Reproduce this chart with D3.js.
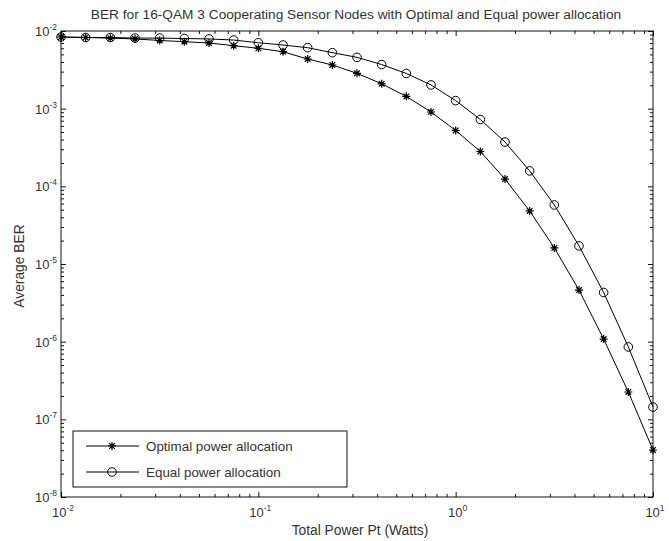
<!DOCTYPE html>
<html><head><meta charset="utf-8">
<script src="https://cdn.jsdelivr.net/npm/d3@7"></script>
<style>
html,body{margin:0;padding:0;background:#fff;}
svg{display:block;font-family:"Liberation Sans",Arial,sans-serif;}
</style></head>
<body><svg id="c" width="669" height="541"></svg>
<script>
// x: Total power Pt (Watts), 25 log-spaced points 10^-2 .. 10^1
const exponents = d3.range(25).map(i => -2 + i / 8);
const power = exponents.map(e => Math.pow(10, e));
const berOptimal = [8.37e-3, 8.25e-3, 8.1e-3, 7.9e-3, 7.55e-3, 7.28e-3, 7.01e-3, 6.47e-3, 5.99e-3,
  5.41e-3, 4.36e-3, 3.65e-3, 2.85e-3, 2.09e-3, 1.44e-3, 9.06e-4, 5.24e-4, 2.81e-4, 1.24e-4,
  4.82e-5, 1.61e-5, 4.62e-6, 1.08e-6, 2.25e-7, 4.03e-8];
const berEqual = [8.37e-3, 8.25e-3, 8.25e-3, 8.1e-3, 8.1e-3, 8.0e-3, 7.9e-3, 7.65e-3, 7.06e-3,
  6.6e-3, 6.1e-3, 5.26e-3, 4.58e-3, 3.7e-3, 2.84e-3, 2.02e-3, 1.27e-3, 7.26e-4, 3.72e-4,
  1.58e-4, 5.76e-5, 1.71e-5, 4.3e-6, 8.55e-7, 1.44e-7];
const xMajorExp = [-2, -1, 0, 1];
const yMajorExp = [-8, -7, -6, -5, -4, -3, -2];
const legendLabels = ["Optimal power allocation", "Equal power allocation"];
const titleText = "BER for 16-QAM 3 Cooperating Sensor Nodes with Optimal and Equal power allocation";
const xLabelText = "Total Power Pt (Watts)";
const yLabelText = "Average BER";

const L = 61, R = 653, T = 31, B = 497;
const svg = d3.select("#c");
const x = d3.scaleLog().domain([1e-2, 10]).range([L, R]);
const y = d3.scaleLog().domain([1e-8, 1e-2]).range([B, T]);

const xMaj = xMajorExp.map(e => Math.pow(10, e));
const yMaj = yMajorExp.map(e => Math.pow(10, e));
const minorOf = majors => {
  const out = [];
  majors.slice(0, -1).forEach(m => { for (let k = 2; k <= 9; k++) out.push(m * k); });
  return out;
};
const xMin = minorOf(xMaj), yMin = minorOf(yMaj);

const textCol = "#333";
function addAxis(axisFn, scale, vals, size, transform) {
  const g = svg.append("g").attr("transform", transform)
    .call(axisFn(scale).tickValues(vals).tickSize(size).tickSizeOuter(0).tickFormat(""));
  g.select(".domain").remove();
  g.selectAll("line").attr("stroke", "#111").attr("stroke-width", 1);
}
addAxis(d3.axisBottom, x, xMaj, -5, `translate(0,${B})`);
addAxis(d3.axisBottom, x, xMin, -3, `translate(0,${B})`);
addAxis(d3.axisTop, x, xMaj, -5, `translate(0,${T})`);
addAxis(d3.axisTop, x, xMin, -3, `translate(0,${T})`);
addAxis(d3.axisLeft, y, yMaj, -5, `translate(${L},0)`);
addAxis(d3.axisLeft, y, yMin, -3, `translate(${L},0)`);
addAxis(d3.axisRight, y, yMaj, -5, `translate(${R},0)`);
addAxis(d3.axisRight, y, yMin, -3, `translate(${R},0)`);

svg.append("rect").attr("x", L).attr("y", T).attr("width", R - L).attr("height", B - T)
  .attr("fill", "none").attr("stroke", "#111").attr("stroke-width", 1);

// tick labels
xMajorExp.forEach(e => {
  const t = svg.append("text").attr("x", x(Math.pow(10, e)) + 2).attr("y", B + 20)
    .attr("text-anchor", "middle").attr("font-size", 13).attr("fill", textCol);
  t.append("tspan").text("10");
  t.append("tspan").attr("dy", -6).attr("font-size", 8.5).text(e);
});
yMajorExp.forEach(e => {
  const t = svg.append("text").attr("x", L - 4).attr("y", y(Math.pow(10, e)) + 5)
    .attr("text-anchor", "end").attr("font-size", 13).attr("fill", textCol);
  t.append("tspan").text("10");
  t.append("tspan").attr("dy", -6).attr("font-size", 8.5).text(e);
});

// labels
svg.append("text").attr("x", 356).attr("y", 19).attr("text-anchor", "middle")
  .attr("font-size", 13.7).attr("fill", textCol).text(titleText);
svg.append("text").attr("x", 360).attr("y", 535).attr("text-anchor", "middle")
  .attr("font-size", 13.8).attr("fill", textCol).text(xLabelText);
svg.append("text").attr("transform", `translate(24,266) rotate(-90)`)
  .attr("text-anchor", "middle").attr("font-size", 13.8).attr("fill", textCol).text(yLabelText);

// markers
const starPath = s => `M${-s},0L${s},0M0,${-s}L0,${s}M${-s*0.7},${-s*0.7}L${s*0.7},${s*0.7}M${-s*0.7},${s*0.7}L${s*0.7},${-s*0.7}`;
function drawStar(g, cx, cy) {
  g.append("path").attr("d", starPath(4)).attr("transform", `translate(${cx},${cy})`)
    .attr("stroke", "#000").attr("stroke-width", 1.2).attr("fill", "none");
}
function drawCircle(g, cx, cy) {
  g.append("circle").attr("cx", cx).attr("cy", cy).attr("r", 4.3)
    .attr("stroke", "#000").attr("stroke-width", 1).attr("fill", "none");
}

const line = d3.line().x(d => x(d[0])).y(d => y(d[1]));
const series = [
  { vals: berOptimal, marker: drawStar },
  { vals: berEqual, marker: drawCircle }
];
series.forEach(s => {
  const pts = power.map((p, i) => [p, s.vals[i]]);
  svg.append("path").attr("d", line(pts)).attr("fill", "none")
    .attr("stroke", "#000").attr("stroke-width", 1);
  const g = svg.append("g");
  pts.forEach(d => s.marker(g, x(d[0]), y(d[1])));
});

// legend
const lg = svg.append("g");
lg.append("rect").attr("x", 73).attr("y", 431).attr("width", 274).attr("height", 56)
  .attr("fill", "#fff").attr("stroke", "#111").attr("stroke-width", 1);
legendLabels.forEach((lab, i) => {
  const ly = 446 + i * 26;
  lg.append("line").attr("x1", 86).attr("x2", 139).attr("y1", ly).attr("y2", ly)
    .attr("stroke", "#000").attr("stroke-width", 1);
  series[i].marker(lg, 112, ly);
  lg.append("text").attr("x", 146).attr("y", ly + 5).attr("font-size", 13.4)
    .attr("fill", textCol).text(lab);
});
</script></body></html>
